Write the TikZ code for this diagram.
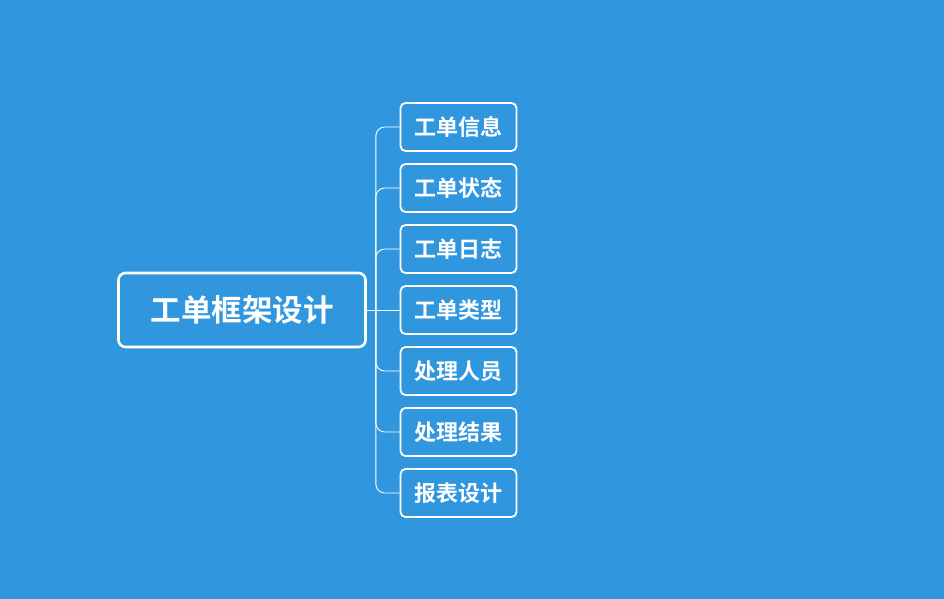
\documentclass[tikz,border=0pt]{standalone}
\usepackage{fontspec}
\newfontfamily\cjk{Noto Sans CJK SC}[BoldFont={Noto Sans CJK SC Bold}]
\usepackage{tikz}
\usetikzlibrary{positioning}

\definecolor{bgblue}{RGB}{48,150,222}

\begin{document}
\begin{tikzpicture}[
			x=1pt, y=-1pt,
			root box/.style={rectangle, draw=white, line width=2.6pt, rounded corners=7pt, minimum width=247pt, minimum height=74pt, text=white, font=\cjk\bfseries\fontsize{30.5}{33}\selectfont},
			topic box/.style={rectangle, draw=white, line width=1.8pt, rounded corners=5pt, minimum width=116pt, minimum height=48pt, text=white, font=\cjk\bfseries\fontsize{22}{24}\selectfont},
			link/.style={draw=white, line width=0.9pt, rounded corners=9pt}
			]
			
			% --- background and bounding box ---
			\fill[bgblue] (0,0) rectangle (944,599);
			\useasboundingbox (0,0) rectangle (944,599);
			
			% --- central topic ---
			\node[root box] (frame) at (242, 310) {工单框架设计};
			
			% --- sub topics ---
			\node[topic box] (info)   at (458.5, 127) {工单信息};
			\node[topic box] (state)  at (458.5, 188) {工单状态};
			\node[topic box] (log)    at (458.5, 249) {工单日志};
			\node[topic box] (kind)   at (458.5, 310) {工单类型};
			\node[topic box] (staff)  at (458.5, 371) {处理人员};
			\node[topic box] (result) at (458.5, 432) {处理结果};
			\node[topic box] (report) at (458.5, 493) {报表设计};
			
			% --- branches ---
			\draw[link] (frame.east) -- ++(9,0) coordinate (fork);
			\draw[link] (fork) |- (info.west);
			\draw[link] (fork) |- (state.west);
			\draw[link] (fork) |- (log.west);
			\draw[link] (fork) -- (kind.west);
			\draw[link] (fork) |- (staff.west);
			\draw[link] (fork) |- (result.west);
			\draw[link] (fork) |- (report.west);
			
		\end{tikzpicture}
\end{document}
